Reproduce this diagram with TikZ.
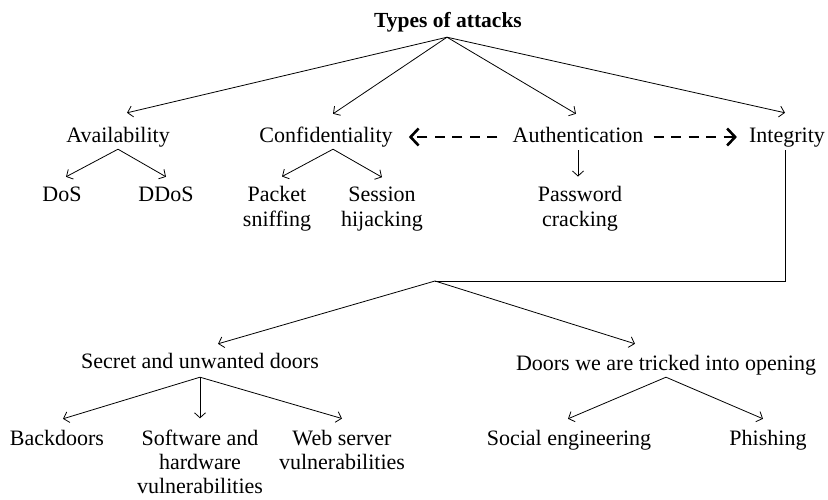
\documentclass[tikz,border=0pt]{standalone}
\usepackage{fontspec}
\setmainfont{Liberation Serif}
\usepackage{tikz}
\usetikzlibrary{
    arrows.meta,
    positioning
}
\tikzstyle{txt} = [
    inner sep=0pt,
    anchor=base,
    align=center,
    font=\fontsize{22}{25.5}\selectfont
]
\tikzstyle{item} = [
    txt,
    text height=15pt,
    text depth=5pt
]
\tikzstyle{branch} = [
    line width=0.8pt,
    -{Straight Barb[length=5pt,width=11pt]}
]
\tikzstyle{link} = [
    line width=2.6pt,
    dash pattern=on 10pt off 7.5pt,
    -{Straight Barb[length=8pt,width=17pt]}
]

\begin{document}
\begin{tikzpicture}[x=1pt, y=-1pt]
\useasboundingbox (0,0) rectangle (828,499);

\node (types) [item, font=\fontsize{21.5}{27}\selectfont\bfseries] at (448,27) {Types of attacks};

\node (avail) [item] at (118,142) {Availability};
\node (conf)  [item] at (326,142) {Confidentiality};
\node (auth)  [item] at (578,142) {Authentication};
\node (integ) [item] at (787,142) {Integrity};

% mehrzeilige Knoten sitzen auf der letzten Grundlinie
\node (dos)     [item] at (62,201)  {DoS};
\node (ddos)    [item] at (166,201) {DDoS};
\node (sniff)   [txt]  at (277,226.5) {Packet\\sniffing};
\node (hijack)  [txt]  at (382,226.5) {Session\\hijacking};
\node (crack)   [txt]  at (580,226.5) {Password\\cracking};

\node (secret)  [item] at (200,368) {Secret and unwanted doors};
\node (tricked) [item] at (666,370) {Doors we are tricked into opening};

\node (backdoor) [item] at (57,445)  {Backdoors};
\node (softhard) [txt, font=\fontsize{22}{24}\selectfont] at (200,493) {Software and\\hardware\\vulnerabilities};
\node (webserv)  [txt, font=\fontsize{22}{24}\selectfont] at (342,469) {Web server\\vulnerabilities};
\node (social)   [item] at (569,445) {Social engineering};
\node (phish)    [item] at (768,445) {Phishing};

\coordinate (split) at (435,281);

\draw [branch] ([xshift=-1pt,yshift=-5pt]types.south) -- ([xshift=9pt,yshift=14pt]avail.north);
\draw [branch] ([xshift=-1pt,yshift=-5pt]types.south) -- ([xshift=7pt,yshift=13pt]conf.north);
\draw [branch] ([xshift=-1pt,yshift=-5pt]types.south) -- ([xshift=-2pt,yshift=13pt]auth.north);
\draw [branch] ([xshift=-1pt,yshift=-5pt]types.south) -- ([xshift=-2pt,yshift=14pt]integ.north);

\draw [branch] ([yshift=-2pt]avail.south) -- ([xshift=4pt,yshift=9pt]dos.north);
\draw [branch] ([yshift=-2pt]avail.south) -- ([yshift=9pt]ddos.north);
\draw [branch] ([xshift=7pt,yshift=-2pt]conf.south) -- ([xshift=5pt,yshift=9pt]sniff.north);
\draw [branch] ([xshift=7pt,yshift=-2pt]conf.south) -- ([yshift=9pt]hijack.north);
\draw [branch] ([yshift=-3pt]auth.south) -- ([xshift=-2pt,yshift=9pt]crack.north);

% gestrichelte Pfeile
\draw [link] ([xshift=-15pt]auth.west) -- ([xshift=16pt]conf.east);
\draw [link] ([xshift=10pt]auth.east) -- ([xshift=-12pt]integ.west);

\draw [line width=0.8pt] ([xshift=-2pt,yshift=-3pt]integ.south) |- (split);
\draw [branch] (split) -- ([xshift=18pt,yshift=9pt]secret.north);
\draw [branch] (split) -- ([xshift=-31pt,yshift=11pt]tricked.north);

\draw [branch] ([yshift=-4pt]secret.south) -- ([xshift=6pt,yshift=11pt]backdoor.north);
\draw [branch] ([yshift=-4pt]secret.south) -- ([yshift=11pt]softhard.north);
\draw [branch] ([yshift=-4pt]secret.south) -- ([yshift=11pt]webserv.north);
\draw [branch] ([yshift=-2pt]tricked.south) -- ([xshift=-1pt,yshift=11pt]social.north);
\draw [branch] ([yshift=-2pt]tricked.south) -- ([xshift=-5pt,yshift=11pt]phish.north);

\end{tikzpicture}
\end{document}
